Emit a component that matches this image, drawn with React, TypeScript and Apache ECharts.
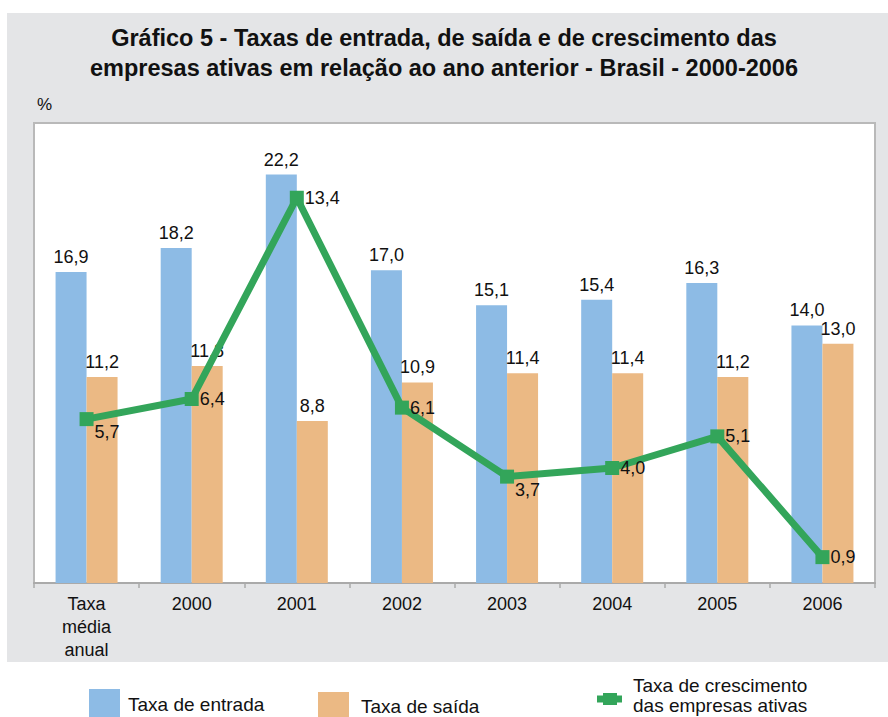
import React, { useEffect, useRef } from "react";
import * as echarts from "echarts";

const categories = ["Taxa\nmédia\nanual", "2000", "2001", "2002", "2003", "2004", "2005", "2006"];
const entrada = [16.9, 18.2, 22.2, 17.0, 15.1, 15.4, 16.3, 14.0];
const saida = [11.2, 11.8, 8.8, 10.9, 11.4, 11.4, 11.2, 13.0];
const crescimento = [5.7, 6.4, 13.4, 6.1, 3.7, 4.0, 5.1, 0.9];
const seriesNames = ["Taxa de entrada", "Taxa de saída", "Taxa de crescimento\ndas empresas ativas"];
const titleLines = [
  "Gráfico 5 - Taxas de entrada, de saída e de crescimento das",
  "empresas ativas em relação ao ano anterior - Brasil - 2000-2006",
];
// points of the growth line whose label sits below-right
const lowLabels = [0, 4];

const BLUE = "#8dbbe5";
const ORANGE = "#ebb984";
const GREEN = "#33a55a";
const FONT = "'Liberation Sans', Arial, sans-serif";

const fmt = (v: number) => v.toFixed(1).replace(".", ",");

export default function App() {
  const ref = useRef<HTMLDivElement>(null);
  useEffect(() => {
    document.body.style.margin = "0";
    const chart = echarts.init(ref.current!, undefined, { renderer: "svg" });
    chart.setOption({
      animation: false,
      backgroundColor: "#ffffff",
      textStyle: { fontFamily: FONT },
      graphic: [
        { type: "rect", z: -10, silent: true, shape: { x: 7, y: 13, width: 881, height: 649 }, style: { fill: "#e4e5e7" } },
        { type: "text", x: 444, y: 38, style: { text: titleLines[0], font: `bold 23.5px ${FONT}`, fill: "#111", textAlign: "center", textVerticalAlign: "middle" } },
        { type: "text", x: 444, y: 68, style: { text: titleLines[1], font: `bold 23.5px ${FONT}`, fill: "#111", textAlign: "center", textVerticalAlign: "middle" } },
        { type: "text", x: 37, y: 104, style: { text: "%", font: `17px ${FONT}`, fill: "#111", textVerticalAlign: "middle" } },
        // legend
        { type: "rect", shape: { x: 89, y: 689, width: 31, height: 31 }, style: { fill: BLUE } },
        { type: "text", x: 128, y: 704, style: { text: seriesNames[0], font: `19px ${FONT}`, fill: "#111", textVerticalAlign: "middle" } },
        { type: "rect", shape: { x: 318, y: 692, width: 31, height: 31 }, style: { fill: ORANGE } },
        { type: "text", x: 361, y: 706, style: { text: seriesNames[1], font: `19px ${FONT}`, fill: "#111", textVerticalAlign: "middle" } },
        { type: "line", shape: { x1: 597, y1: 699, x2: 622, y2: 699 }, style: { stroke: GREEN, lineWidth: 7 } },
        { type: "rect", shape: { x: 603, y: 693, width: 14, height: 12 }, style: { fill: GREEN } },
        { type: "text", x: 633, y: 695, style: { text: seriesNames[2], font: `19px ${FONT}`, lineHeight: 20, fill: "#111", textVerticalAlign: "middle" } },
      ],
      grid: {
        show: true,
        left: 34,
        top: 123,
        right: 13,
        bottom: 134,
        backgroundColor: "#ffffff",
        borderColor: "#b9b9b9",
        borderWidth: 2,
      },
      xAxis: {
        type: "category",
        data: categories,
        axisLine: { lineStyle: { color: "#aaaaaa", width: 2 } },
        axisTick: { show: true, length: 5, lineStyle: { color: "#aaaaaa", width: 1.5 } },
        axisLabel: { color: "#111", fontSize: 18, lineHeight: 23, margin: 9, fontFamily: FONT },
      },
      yAxis: [
        { type: "value", min: 0, max: 25, show: false, splitLine: { show: false } },
        { type: "value", min: 0, max: 16, show: false, splitLine: { show: false } },
      ],
      series: [
        {
          name: seriesNames[0],
          type: "bar",
          data: entrada,
          barWidth: 31,
          barGap: "0%",
          itemStyle: { color: BLUE },
          label: { show: true, position: "top", distance: 6, color: "#111", fontSize: 18, fontFamily: FONT, formatter: (p: any) => fmt(p.value) },
        },
        {
          name: seriesNames[1],
          type: "bar",
          data: saida,
          barWidth: 31,
          barGap: "0%",
          itemStyle: { color: ORANGE },
          label: { show: true, position: "top", distance: 6, color: "#111", fontSize: 18, fontFamily: FONT, formatter: (p: any) => fmt(p.value) },
        },
        {
          name: seriesNames[2],
          type: "line",
          yAxisIndex: 1,
          data: crescimento.map((v, i) => ({
            value: v,
            label: lowLabels.includes(i) ? { offset: [0, 13] } : undefined,
          })),
          symbol: "rect",
          symbolSize: 14,
          lineStyle: { color: GREEN, width: 7 },
          itemStyle: { color: GREEN },
          z: 5,
          label: { show: true, position: "right", distance: 1, color: "#111", fontSize: 18, fontFamily: FONT, formatter: (p: any) => fmt(p.value) },
        },
      ],
    });
    return () => chart.dispose();
  }, []);
  return <div ref={ref} style={{ width: 888, height: 717 }} />;
}
